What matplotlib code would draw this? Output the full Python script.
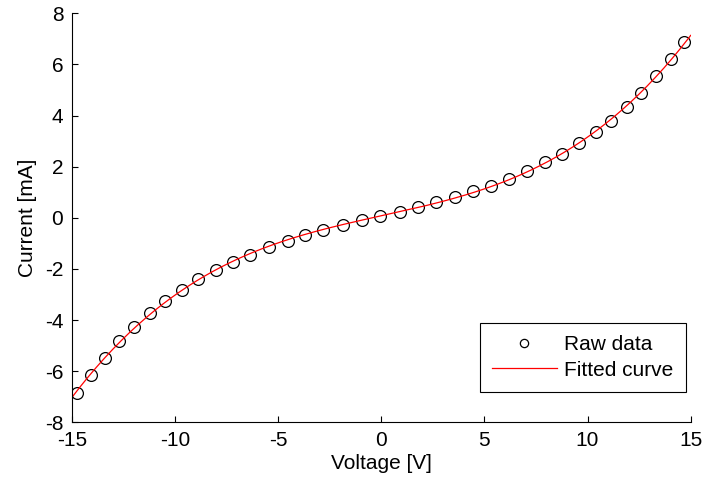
import numpy as np
import matplotlib.pyplot as plt

plt.rcParams['font.family'] = ['Liberation Sans', 'DejaVu Sans']
plt.rcParams['axes.unicode_minus'] = False

# raw data
voltage = [-14.75, -14.07, -13.41, -12.70, -11.98, -11.20, -10.47, -9.66, -8.89, -8.00,
           -7.19, -6.35, -5.43, -4.54, -3.68, -2.80, -1.86, -0.95, -0.05, 0.89,
           1.76, 2.67, 3.59, 4.47, 5.33, 6.20, 7.09, 7.95, 8.76, 9.60,
           10.41, 11.13, 11.91, 12.60, 13.33, 14.04, 14.69]
current = [-6.84, -6.15, -5.47, -4.83, -4.26, -3.74, -3.26, -2.82, -2.40, -2.04,
           -1.74, -1.44, -1.15, -0.89, -0.67, -0.48, -0.29, -0.09, 0.07, 0.24,
           0.41, 0.61, 0.80, 1.05, 1.26, 1.52, 1.83, 2.17, 2.50, 2.91,
           3.37, 3.80, 4.32, 4.87, 5.55, 6.21, 6.87]

x = np.array(voltage)
y = np.array(current)

# cubic fit of the raw data
popt = np.polyfit(x, y, 3)
x1 = np.linspace(-15, 15, 300)
y1 = np.polyval(popt, x1)

fig = plt.figure(figsize=(7.03, 4.86), dpi=100)
ax = fig.add_axes([0.102, 0.131, 0.8805, 0.8416])

ax.plot(x, y, 'o', ms=8.5, mfc='none', mec='black', mew=0.9, label='Raw data')
ax.plot(x1, y1, 'r-', lw=0.9, label='Fitted curve')

ax.set_xlim(-15, 15)
ax.set_ylim(-8, 8)
ax.set_xticks(np.arange(-15, 16, 5))
ax.set_yticks(np.arange(-8, 9, 2))
ax.spines['top'].set_visible(False)
ax.spines['right'].set_visible(False)
ax.tick_params(direction='in', length=4, labelsize=15, pad=6)
ax.set_xlabel('Voltage [V]', fontsize=15, labelpad=3)
ax.set_ylabel('Current [mA]', fontsize=15, labelpad=6)

leg = ax.legend(loc='lower right', bbox_to_anchor=(0.992, 0.074), borderaxespad=0,
                fontsize=15, fancybox=False, edgecolor='black', framealpha=1,
                handlelength=3.1, handletextpad=0.35, markerscale=0.7,
                labelspacing=0.3, borderpad=0.6)
leg.get_frame().set_linewidth(0.8)

fig.savefig('out.png', dpi=100)
